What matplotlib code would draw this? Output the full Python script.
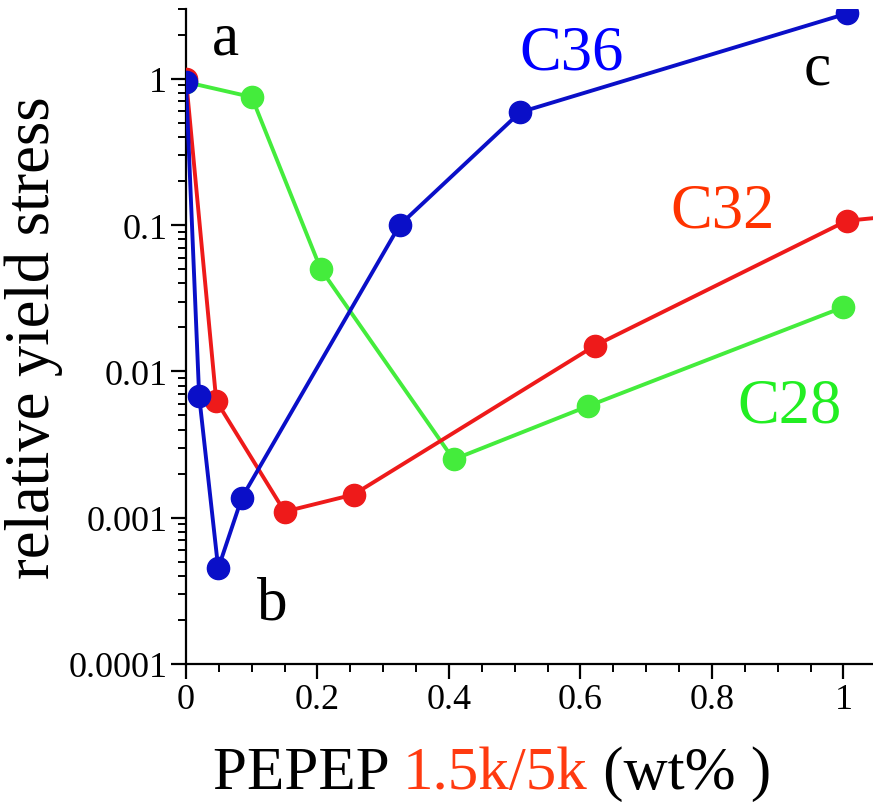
import numpy as np
import matplotlib
matplotlib.use("Agg")
import matplotlib.pyplot as plt
from matplotlib.ticker import LogLocator, MultipleLocator, FixedLocator, NullFormatter

# --- datos ---
x_c36 = [0.0, 0.02, 0.049, 0.085, 0.325, 0.508, 1.006]
y_c36 = [0.95, 0.0068, 0.00045, 0.00137, 0.1, 0.59, 2.8]

x_c32 = [0.0, 0.046, 0.15, 0.255, 0.622, 1.005, 1.10]
y_c32 = [1.0, 0.0063, 0.0011, 0.00144, 0.015, 0.107, 0.118]

x_c28 = [0.0, 0.1, 0.205, 0.407, 0.612, 1.0]
y_c28 = [0.95, 0.75, 0.05, 0.0025, 0.0058, 0.0275]

y_ticks = [0.0001, 0.001, 0.01, 0.1, 1]
y_tick_labels = ["0.0001", "0.001", "0.01", "0.1", "1"]
x_ticks = [0, 0.2, 0.4, 0.6, 0.8, 1]
x_tick_labels = ["0", "0.2", "0.4", "0.6", "0.8", "1"]

azul = "#0a0fc8"
rojo = "#ee1a1a"
verde = "#44ec3c"

plt.rcParams['font.family'] = ['Liberation Serif', 'DejaVu Serif']

W, H = 873, 803
fig = plt.figure(figsize=(W / 100, H / 100), dpi=100)
ax = fig.add_axes([186 / W, (H - 665) / H, (W - 186) / W, (665 - 10) / H])

ax.plot(x_c28, y_c28, '-o', color=verde, lw=2.8, ms=16, zorder=2)
ax.plot(x_c32, y_c32, '-o', color=rojo, lw=2.8, ms=16, zorder=3)
ax.plot(x_c36, y_c36, '-o', color=azul, lw=2.8, ms=16, zorder=4)

ax.set_yscale('log')
ax.set_ylim(1e-4, 3)
ax.set_xlim(0, 1.045)

ax.yaxis.set_major_locator(FixedLocator(y_ticks))
ax.set_yticklabels(y_tick_labels)
ax.yaxis.set_minor_locator(LogLocator(base=10, subs=np.arange(2, 10)))
ax.yaxis.set_minor_formatter(NullFormatter())
ax.set_xticks(x_ticks)
ax.set_xticklabels(x_tick_labels)
ax.xaxis.set_minor_locator(MultipleLocator(0.05))

ax.tick_params(axis='both', which='major', direction='out', length=10.5, width=1.6,
               labelsize=26, pad=3)
ax.tick_params(axis='both', which='minor', direction='out', length=6, width=1.4)

for s in ['top', 'right']:
    ax.spines[s].set_visible(False)
for s in ['left', 'bottom']:
    ax.spines[s].set_linewidth(1.6)

ax.set_ylabel("relative yield stress", fontsize=45, labelpad=4)

# etiqueta del eje x en tres colores
t1 = fig.text(213 / W, (H - 789) / H, "PEPEP ", fontsize=44, color='black', va='baseline')
t2 = ax.annotate("1.5k/5k", xy=(1, 0), xycoords=t1, fontsize=44, color="#ff3a10",
                 va='bottom', annotation_clip=False)
t3 = ax.annotate(" (wt% )", xy=(1, 0), xycoords=t2, fontsize=44, color='black',
                 va='bottom', annotation_clip=False)

# rótulos de las curvas
fig.text(572 / W, (H - 55) / H, "C36", fontsize=45, color="#0000ff", ha='center', va='center')
fig.text(723 / W, (H - 213) / H, "C32", fontsize=45, color="#ff3300", ha='center', va='center')
fig.text(790 / W, (H - 408) / H, "C28", fontsize=45, color="#22ee22", ha='center', va='center')

fig.text(225 / W, (H - 40) / H, "a", fontsize=44, ha='center', va='center')
fig.text(272 / W, (H - 605) / H, "b", fontsize=44, ha='center', va='center')
fig.text(817 / W, (H - 70) / H, "c", fontsize=44, ha='center', va='center')

fig.savefig("out.png", dpi=100)
